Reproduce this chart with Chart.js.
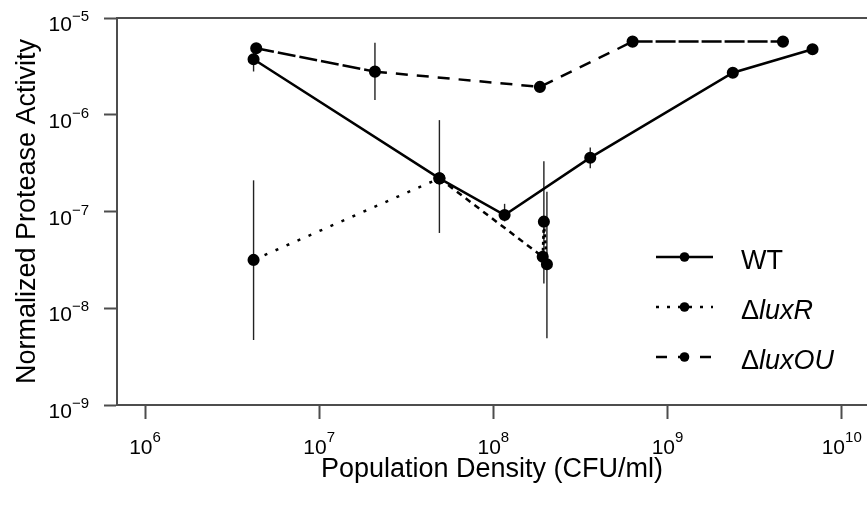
<!DOCTYPE html>
<html lang="en">
<head>
    <meta charset="UTF-8">
    <title>Protease Activity</title>
    <script src="https://cdn.jsdelivr.net/npm/chart.js"></script>
    <style>
        body { margin: 0; background: #fff; }
        canvas { display: block; }
    </style>
</head>
<body>
    <canvas id="proteaseChart" width="867" height="508"></canvas>
    <script>
        // values (CFU/ml vs normalized activity)
        const wtDensity   = [4.2e6, 4.9e7, 1.16e8, 3.6e8, 2.37e9, 6.8e9];
        const wtActivity  = [3.75e-6, 2.2e-7, 9.2e-8, 3.6e-7, 2.72e-6, 4.75e-6];
        const wtErrLow    = [2.8e-6, 6.0e-8, 7.9e-8, 2.8e-7, null, null];
        const wtErrHigh   = [4.9e-6, 8.8e-7, 1.2e-7, 4.6e-7, null, null];

        const luxRDensity  = [4.2e6, 4.9e7, 1.92e8, 1.95e8, 2.03e8];
        const luxRActivity = [3.16e-8, 2.2e-7, 3.4e-8, 7.85e-8, 2.85e-8];
        const luxRErrLow   = [4.7e-9, null, null, 1.8e-8, 4.9e-9];
        const luxRErrHigh  = [2.1e-7, null, null, 3.3e-7, 1.6e-7];

        const luxOUDensity  = [4.35e6, 2.09e7, 1.85e8, 6.3e8, 4.6e9];
        const luxOUActivity = [4.87e-6, 2.79e-6, 1.94e-6, 5.7e-6, 5.7e-6];
        const luxOUErrLow   = [null, 1.42e-6, null, null, null];
        const luxOUErrHigh  = [null, 5.56e-6, null, null, null];

        const xTicks = [1e6, 1e7, 1e8, 1e9, 1e10];
        const yTicks = [1e-9, 1e-8, 1e-7, 1e-6, 1e-5];

        const FONT = '"Liberation Sans", Arial, sans-serif';
        const axisColor = '#4d4d4d';

        function points(xs, ys, lo, hi) {
            return xs.map((v, i) => ({ x: v, y: ys[i], lo: lo[i], hi: hi[i] }));
        }

        const luxRDash = [[3, 9], [6, 5], [3, 3], [3, 3]];
        const luxOUDash = [[18, 4], [12, 9], [12, 9], [20, 3]];

        const legendRows = [
            { pre: '', it: 'WT', plain: true, dash: [] },
            { pre: '\u0394', it: 'luxR', dash: [3, 8] },
            { pre: '\u0394', it: 'luxOU', dash: [11, 11] }
        ];

        const decor = {
            id: 'decor',
            beforeDatasetsDraw(chart) {
                const { ctx, chartArea: a, scales: { x, y } } = chart;
                ctx.save();
                // top frame line
                ctx.strokeStyle = axisColor;
                ctx.lineWidth = 2;
                ctx.beginPath();
                ctx.moveTo(a.left, a.top);
                ctx.lineTo(a.right, a.top);
                ctx.stroke();
                // error bars
                ctx.strokeStyle = '#222';
                ctx.lineWidth = 1.4;
                chart.data.datasets.forEach(ds => {
                    ds.data.forEach(p => {
                        if (p.lo == null) return;
                        const px = x.getPixelForValue(p.x);
                        ctx.beginPath();
                        ctx.moveTo(px, y.getPixelForValue(p.lo));
                        ctx.lineTo(px, y.getPixelForValue(p.hi));
                        ctx.stroke();
                    });
                });
                ctx.restore();
            },
            afterDraw(chart) {
                const { ctx, chartArea: a, scales: { x, y } } = chart;
                const baseFont = '21px ' + FONT;
                const supFont = '15px ' + FONT;
                ctx.save();
                ctx.fillStyle = '#000';
                ctx.textAlign = 'left';
                ctx.textBaseline = 'alphabetic';

                // x tick labels 10^n
                x.ticks.forEach(t => {
                    const px = x.getPixelForValue(t.value);
                    const sup = String(Math.round(Math.log10(t.value))).replace('-', '\u2212');
                    ctx.font = baseFont;
                    const wb = ctx.measureText('10').width;
                    ctx.font = supFont;
                    const ws = ctx.measureText(sup).width;
                    const x0 = px - (wb + ws) / 2;
                    ctx.font = baseFont;
                    ctx.fillText('10', x0, a.bottom + 49);
                    ctx.font = supFont;
                    ctx.fillText(sup, x0 + wb, a.bottom + 37);
                });

                // y tick labels, right aligned
                y.ticks.forEach(t => {
                    const py = y.getPixelForValue(t.value);
                    const sup = String(Math.round(Math.log10(t.value))).replace('-', '\u2212');
                    const right = a.left - 28;
                    ctx.font = supFont;
                    const ws = ctx.measureText(sup).width;
                    ctx.fillText(sup, right - ws, py + 3);
                    ctx.font = baseFont;
                    const wb = ctx.measureText('10').width;
                    ctx.fillText('10', right - ws - wb, py + 13);
                });

                // legend
                const lx1 = 656, lx2 = 713, dotX = 684.5, textX = 741;
                const rowY = [257, 307, 357];
                legendRows.forEach((row, i) => {
                    const ly = rowY[i];
                    ctx.strokeStyle = '#000';
                    ctx.lineWidth = 2.5;
                    ctx.setLineDash(row.dash);
                    ctx.beginPath();
                    ctx.moveTo(lx1, ly);
                    ctx.lineTo(lx2, ly);
                    ctx.stroke();
                    ctx.setLineDash([]);
                    ctx.beginPath();
                    ctx.arc(dotX, ly, 4.8, 0, Math.PI * 2);
                    ctx.fill();
                    let tx = textX;
                    ctx.font = '27px ' + FONT;
                    if (row.pre) {
                        ctx.fillText(row.pre, tx, ly + 12);
                        tx += ctx.measureText(row.pre).width;
                    }
                    ctx.font = (row.plain ? '' : 'italic ') + '27px ' + FONT;
                    ctx.fillText(row.it, tx, ly + 12);
                });
                ctx.restore();
            }
        };

        const ctx = document.getElementById('proteaseChart').getContext('2d');
        new Chart(ctx, {
            type: 'scatter',
            data: {
                datasets: [
                    {
                        label: 'WT',
                        data: points(wtDensity, wtActivity, wtErrLow, wtErrHigh),
                        showLine: true,
                        borderColor: '#000',
                        borderWidth: 2.5
                    },
                    {
                        label: '\u0394luxR',
                        data: points(luxRDensity, luxRActivity, luxRErrLow, luxRErrHigh),
                        showLine: true,
                        borderColor: '#000',
                        borderWidth: 2.5,
                        segment: { borderDash: c => luxRDash[c.p0DataIndex] }
                    },
                    {
                        label: '\u0394luxOU',
                        data: points(luxOUDensity, luxOUActivity, luxOUErrLow, luxOUErrHigh),
                        showLine: true,
                        borderColor: '#000',
                        borderWidth: 2.5,
                        segment: { borderDash: c => luxOUDash[c.p0DataIndex] }
                    }
                ]
            },
            options: {
                responsive: false,
                animation: false,
                events: [],
                layout: { autoPadding: false, padding: { left: 0, right: 0, top: 18, bottom: 0 } },
                elements: {
                    point: { radius: 4.8, backgroundColor: '#000', borderWidth: 0 },
                    line: { tension: 0 }
                },
                plugins: { legend: { display: false }, tooltip: { enabled: false } },
                scales: {
                    x: {
                        type: 'logarithmic',
                        min: 6.905e5,
                        max: 1.397e10,
                        bounds: 'data',
                        afterBuildTicks: s => { s.ticks = xTicks.map(v => ({ value: v })); },
                        ticks: { display: false },
                        grid: { drawOnChartArea: false, drawTicks: true, tickLength: 14, tickColor: axisColor, tickWidth: 2 },
                        border: { color: axisColor, width: 2 },
                        title: {
                            display: true,
                            text: 'Population Density (CFU/ml)',
                            color: '#000',
                            font: { family: FONT, size: 27 },
                            padding: { top: 34.6, bottom: 22 }
                        }
                    },
                    y: {
                        type: 'logarithmic',
                        min: 1e-9,
                        max: 1e-5,
                        bounds: 'data',
                        afterBuildTicks: s => { s.ticks = yTicks.map(v => ({ value: v })); },
                        ticks: { display: false },
                        grid: { drawOnChartArea: false, drawTicks: true, tickLength: 13, tickColor: axisColor, tickWidth: 2 },
                        border: { color: axisColor, width: 2 },
                        title: {
                            display: true,
                            text: 'Normalized Protease Activity',
                            color: '#000',
                            font: { family: FONT, size: 27 },
                            padding: { top: 11.8, bottom: 59.8 }
                        }
                    }
                }
            },
            plugins: [decor]
        });
    </script>
</body>
</html>
